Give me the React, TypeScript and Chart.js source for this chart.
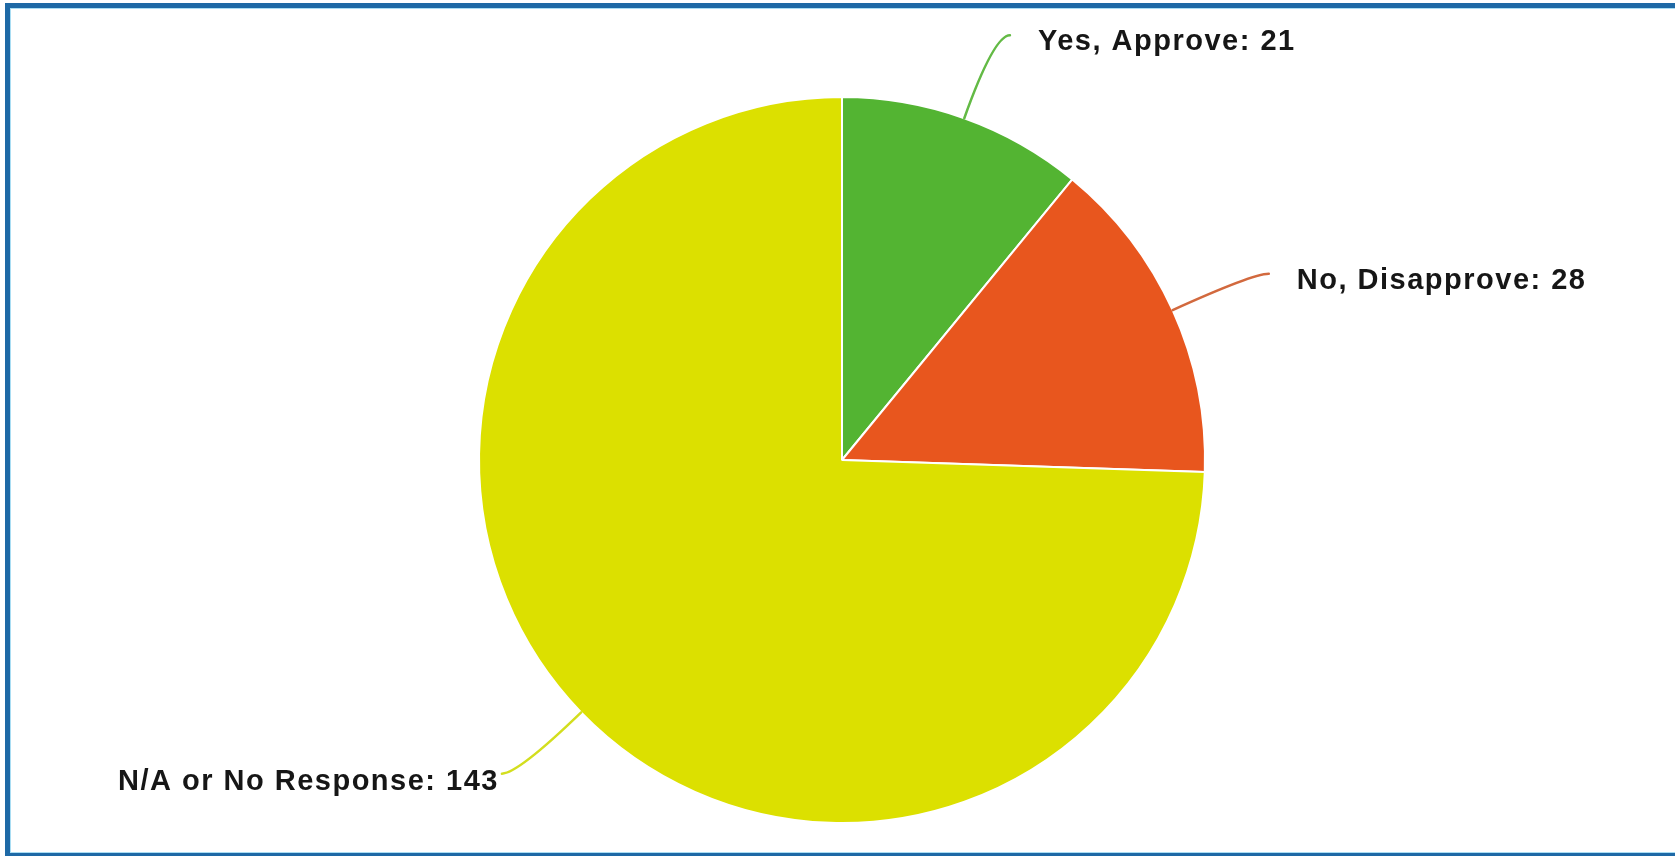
import React, { useEffect, useRef } from "react";
import { Chart, registerables } from "chart.js";

Chart.register(...registerables);

const categories = ["Yes, Approve", "No, Disapprove", "N/A or No Response"];
const counts = [21, 28, 143];
const sliceColors = ["#53B432", "#E8561E", "#DCE000"];
const lineColors = ["#63BA45", "#D2693E", "#D3DE1E"];

const calloutPlugin = {
  id: "callouts",
  afterDatasetsDraw(chart: any) {
    const ctx = chart.ctx;
    const meta = chart.getDatasetMeta(0);
    meta.data.forEach((arc: any, i: number) => {
      const { x, y, startAngle, endAngle, outerRadius } = arc.getProps(
        ["x", "y", "startAngle", "endAngle", "outerRadius"],
        true
      );
      const mid = (startAngle + endAngle) / 2;
      const dx = Math.cos(mid);
      const dy = Math.sin(mid);
      const p0x = x + dx * outerRadius;
      const p0y = y + dy * outerRadius;
      const ext = 88;
      const p1x = p0x + dx * ext;
      const p1y = p0y + dy * ext;
      const right = dx >= 0;
      const horiz = 16;
      const p2x = p1x + (right ? horiz : -horiz);
      const p2y = p1y;
      ctx.save();
      ctx.strokeStyle = lineColors[i];
      ctx.lineWidth = 2.5;
      ctx.lineCap = "round";
      ctx.beginPath();
      ctx.moveTo(p0x, p0y);
      ctx.quadraticCurveTo(p1x, p1y, p2x, p2y);
      ctx.stroke();
      ctx.font = "bold 29px 'Liberation Sans', Arial, sans-serif";
      (ctx as any).letterSpacing = "1.5px";
      ctx.fillStyle = "#161616";
      ctx.textBaseline = "alphabetic";
      const text = `${categories[i]}: ${counts[i]}`;
      if (right) {
        ctx.textAlign = "left";
        ctx.fillText(text, p2x + 28, p2y + 15);
      } else {
        ctx.textAlign = "right";
        ctx.fillText(text, p2x - 3, p2y + 16);
      }
      ctx.restore();
    });
  },
};

export default function App() {
  const canvasRef = useRef<HTMLCanvasElement | null>(null);

  useEffect(() => {
    if (!canvasRef.current) return;
    const chart = new Chart(canvasRef.current, {
      type: "pie",
      data: {
        labels: categories,
        datasets: [
          {
            data: counts,
            backgroundColor: sliceColors,
            borderColor: "#ffffff",
            borderWidth: 2,
            hoverOffset: 0,
          },
        ],
      },
      options: {
        animation: false,
        responsive: false,
        maintainAspectRatio: false,
        layout: { padding: { top: 96, bottom: 32, left: 478, right: 469 } },
        plugins: {
          legend: { display: false },
          tooltip: { enabled: false },
        },
      },
      plugins: [calloutPlugin],
    });
    return () => chart.destroy();
  }, []);

  return (
    <div
      style={{
        position: "fixed",
        left: 0,
        top: 0,
        width: 1675,
        height: 856,
        overflow: "hidden",
        background: "#ffffff",
      }}
    >
      <div
        style={{
          position: "absolute",
          left: 5,
          top: 3,
          width: 1700,
          height: 845,
          border: "5px solid #1E69A6",
          boxShadow: "inset 0 0 0 1px #A9DDF3",
        }}
      />
      <canvas
        ref={canvasRef}
        width={1675}
        height={856}
        style={{ position: "absolute", left: 0, top: 0, width: 1675, height: 856 }}
      />
    </div>
  );
}
